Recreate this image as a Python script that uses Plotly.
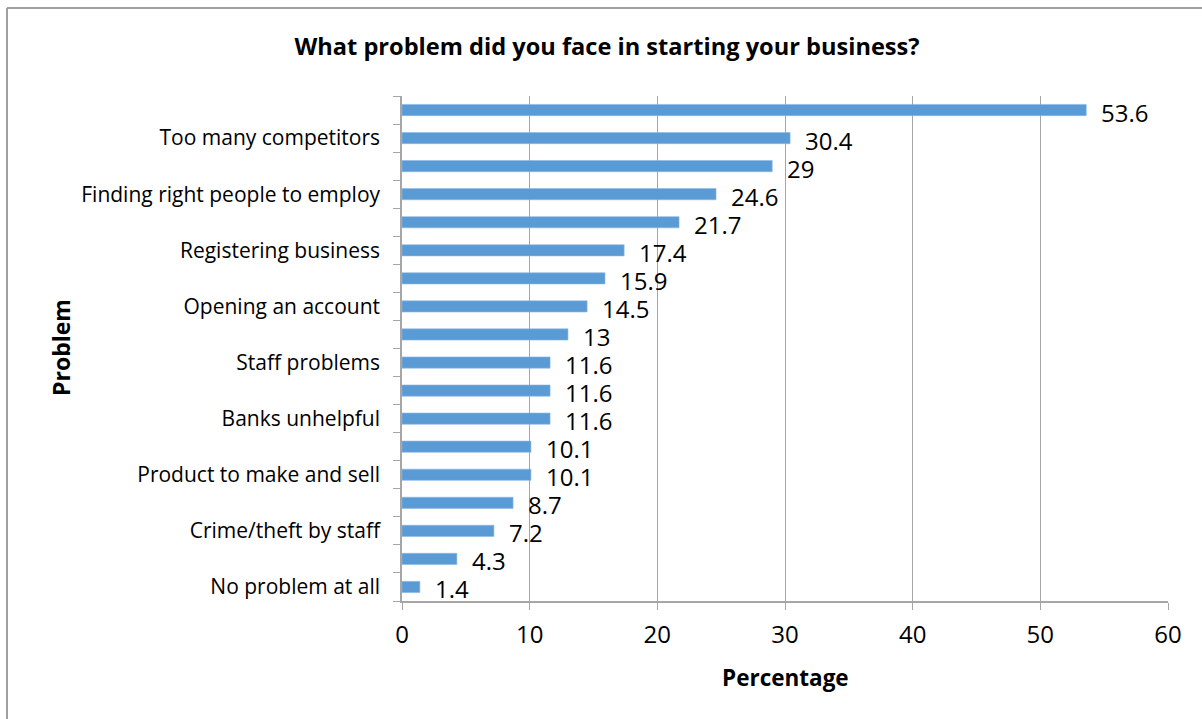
import plotly.graph_objects as go

# Survey responses, listed top to bottom as they appear on the chart.
# Only every other category carries a visible axis label; the rest are unlabeled.
labels = [
    "", "Too many competitors", "", "Finding right people to employ",
    "", "Registering business", "", "Opening an account",
    "", "Staff problems", "", "Banks unhelpful",
    "", "Product to make and sell", "", "Crime/theft by staff",
    "", "No problem at all",
]
values = [53.6, 30.4, 29, 24.6, 21.7, 17.4, 15.9, 14.5, 13,
          11.6, 11.6, 11.6, 10.1, 10.1, 8.7, 7.2, 4.3, 1.4]
x_ticks = [0, 10, 20, 30, 40, 50, 60]

n = len(values)
# bottom bar at position 0, top bar at position n-1
positions = [n - 1 - i for i in range(n)]

FONT = "Open Sans, Lato, sans-serif"
GRID = "#a6a6a6"
BLACK = "#000000"

# plot-area geometry in pixels, used to place the frame and axis titles
W, H = 1202, 719
L, R, T, B = 402, 34, 96, 118
PW, PH = W - L - R, H - T - B


def px_to_paper(xp, yp):
    return (xp - L) / PW, (H - B - yp) / PH


fig = go.Figure()
fig.add_trace(go.Bar(
    x=values,
    y=positions,
    orientation="h",
    marker=dict(color="#5b9bd5", line=dict(color="#8db8e3", width=0.6)),
    hoverinfo="x",
))

# value labels just past the end of each bar
for v, p in zip(values, positions):
    fig.add_annotation(
        x=v, y=p, text=f"{v:g}", showarrow=False,
        xanchor="left", yanchor="middle", xshift=13, yshift=-2,
        font=dict(family=FONT, size=24, color=BLACK),
    )

shown = [(p, t) for p, t in zip(positions, labels) if t]

# axis titles
px, py = px_to_paper(785, 677)
fig.add_annotation(x=px, y=py, xref="paper", yref="paper", showarrow=False,
                   text="<b>Percentage</b>", xanchor="center", yanchor="middle",
                   font=dict(family=FONT, size=22.5, color=BLACK))
px, py = px_to_paper(61, 348)
fig.add_annotation(x=px, y=py, xref="paper", yref="paper", showarrow=False,
                   text="<b>Problem</b>", textangle=-90,
                   xanchor="center", yanchor="middle",
                   font=dict(family=FONT, size=23, color=BLACK))

fig.update_layout(
    width=W, height=H,
    margin=dict(l=L, r=R, t=T, b=B),
    paper_bgcolor="white", plot_bgcolor="white",
    bargap=0.6,
    showlegend=False,
    title=dict(
        text="<b>What problem did you face in starting your business?</b>",
        x=0.505, xanchor="center", y=0.935, yanchor="middle",
        font=dict(family=FONT, size=23.6, color=BLACK),
    ),
    xaxis=dict(
        range=[0, 60], tickvals=x_ticks, ticktext=[str(t) for t in x_ticks],
        showgrid=True, gridcolor=GRID, gridwidth=1.3,
        showline=True, linecolor=GRID, linewidth=1.5,
        ticks="outside", ticklen=7, tickcolor=GRID,
        tickfont=dict(family=FONT, size=24, color=BLACK),
        ticklabelstandoff=4,
        zeroline=False,
    ),
    yaxis=dict(
        range=[-0.5, n - 0.5],
        tickvals=[p for p, _ in shown], ticktext=[t for _, t in shown],
        ticks="", showgrid=False, zeroline=False,
        showline=True, linecolor=GRID, linewidth=1.5,
        tickfont=dict(family=FONT, size=21, color=BLACK),
        ticklabelstandoff=16,
        minor=dict(tickvals=[k - 0.5 for k in range(n + 1)],
                   ticks="outside", ticklen=7, tickcolor=GRID, showgrid=False),
    ),
)

# chart frame (left and top edges)
fx, fy = px_to_paper(7, 8)
rx, by = px_to_paper(W + 5, H + 5)
fig.add_shape(type="line", xref="paper", yref="paper",
              x0=fx, x1=fx, y0=fy, y1=by,
              line=dict(color="#a0a0a0", width=2))
fig.add_shape(type="line", xref="paper", yref="paper",
              x0=fx, x1=rx, y0=fy, y1=fy,
              line=dict(color="#a0a0a0", width=2))

fig.write_html("out.html")
